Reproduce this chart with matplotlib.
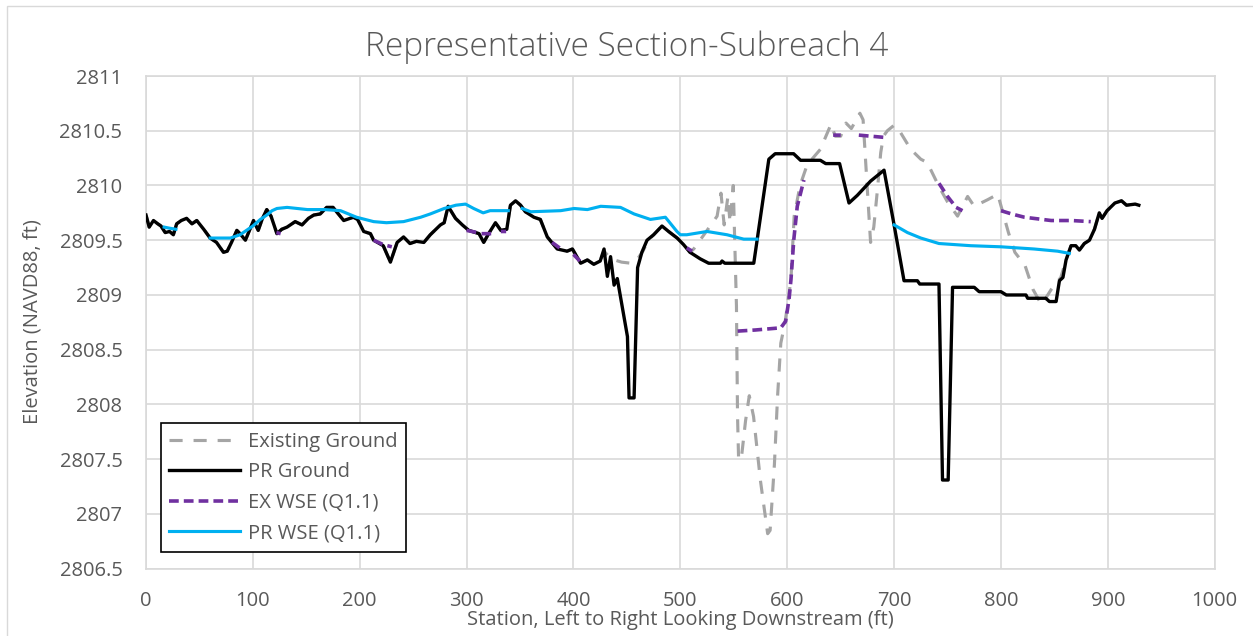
import numpy as np
import matplotlib
matplotlib.use("Agg")
from matplotlib import pyplot as plt
from matplotlib.patches import Rectangle

# PR Ground (proposed) station / elevation
pr_x = [0, 3, 7, 11, 14, 18, 22, 25.6, 28.7, 33, 38, 43, 47.5, 54, 60, 66, 72.5, 76, 80, 85,
        88, 93, 100.6, 105, 109, 113, 117, 122.5, 127, 132, 139.6, 146, 152, 157, 163, 169, 175,
        180, 185, 194, 198, 203.7, 210, 213, 222, 228.7, 235, 241, 247, 253, 260, 266, 275.5,
        279, 282.7, 289.6, 296, 302, 311.6, 316, 320.6, 327, 332, 337.6, 341, 345.8, 350.5, 355,
        363, 369, 375.5, 384.8, 394, 399, 406.7, 413, 419, 425, 428.6, 431.7, 434.7, 438, 441,
        450.5, 452, 456.7, 460, 464, 468.8, 475, 482.8, 489, 497, 503, 509, 518.6, 526.5, 537.5,
        539, 541.6, 568.7, 582.8, 588.7, 606, 612.5, 631, 636, 649, 657.8, 665.6, 678, 690.6,
        700, 709.3, 721.8, 724, 742, 745.3, 750.6, 754.7, 775, 779.6, 800, 805, 823.4, 825, 842,
        845.3, 851.6, 854.7, 858, 860.9, 865.6, 870, 873.4, 878, 882.8, 887.5, 892, 894.6, 899.3,
        906.6, 912.8, 917.5, 925.6, 929]
pr_y = [2809.73, 2809.62, 2809.68, 2809.65, 2809.63, 2809.57, 2809.58, 2809.55, 2809.65, 2809.68,
        2809.70, 2809.65, 2809.68, 2809.60, 2809.52, 2809.48, 2809.39, 2809.40, 2809.48, 2809.59,
        2809.56, 2809.50, 2809.68, 2809.59, 2809.70, 2809.78, 2809.72, 2809.56, 2809.60, 2809.62,
        2809.67, 2809.64, 2809.70, 2809.73, 2809.74, 2809.80, 2809.80, 2809.74, 2809.68, 2809.71,
        2809.69, 2809.58, 2809.56, 2809.50, 2809.45, 2809.30, 2809.48, 2809.53, 2809.47, 2809.49,
        2809.48, 2809.55, 2809.64, 2809.66, 2809.81, 2809.70, 2809.64, 2809.59, 2809.56, 2809.48,
        2809.56, 2809.66, 2809.59, 2809.60, 2809.82, 2809.86, 2809.82, 2809.76, 2809.71, 2809.69,
        2809.53, 2809.42, 2809.40, 2809.42, 2809.29, 2809.32, 2809.28, 2809.31, 2809.42, 2809.17,
        2809.35, 2809.09, 2809.15, 2808.62, 2808.06, 2808.06, 2809.25, 2809.39, 2809.50, 2809.55,
        2809.63, 2809.58, 2809.52, 2809.46, 2809.39, 2809.33, 2809.29, 2809.29, 2809.31, 2809.29,
        2809.29, 2810.24, 2810.29, 2810.29, 2810.23, 2810.23, 2810.20, 2810.20, 2809.84, 2809.91,
        2810.04, 2810.14, 2809.64, 2809.13, 2809.13, 2809.10, 2809.10, 2807.31, 2807.31, 2809.07,
        2809.07, 2809.03, 2809.03, 2809.00, 2809.00, 2808.97, 2808.97, 2808.94, 2808.94, 2809.13,
        2809.16, 2809.32, 2809.45, 2809.45, 2809.41, 2809.47, 2809.50, 2809.60, 2809.75, 2809.70,
        2809.77, 2809.84, 2809.86, 2809.82, 2809.83, 2809.82]

# Existing Ground where it differs from PR Ground (425 - 861 ft)
ex_mid_x = [428.6, 435, 445, 453.6, 460, 465, 470, 475, 482.8, 489, 497, 503, 509, 512.5, 525,
            534.4, 538, 541, 544.5, 546.5, 549.5, 552.5, 553.5, 554.5, 557, 561, 564.5, 568.5,
            575, 581.7, 584, 588, 591, 594, 598, 603.5, 606.5, 612, 618.7, 631, 641, 645, 650,
            655, 660, 668, 671, 675, 678, 681, 684.4, 687.5, 690, 693.7, 700, 705, 715.6, 725,
            731, 742, 750, 759.4, 768.8, 775, 787.5, 797, 807, 813, 822.5, 830, 838, 847, 856]
ex_mid_y = [2809.40, 2809.33, 2809.30, 2809.29, 2809.33, 2809.40, 2809.50, 2809.55, 2809.63,
            2809.58, 2809.52, 2809.46, 2809.39, 2809.42, 2809.59, 2809.72, 2809.93, 2809.64,
            2809.90, 2809.66, 2810.00, 2808.90, 2807.90, 2807.50, 2807.50, 2807.85, 2808.08,
            2807.89, 2807.30, 2806.82, 2806.85, 2807.45, 2808.08, 2808.56, 2808.75, 2809.14,
            2809.72, 2810.00, 2810.19, 2810.33, 2810.56, 2810.45, 2810.45, 2810.57, 2810.52,
            2810.66, 2810.60, 2809.96, 2809.48, 2809.62, 2809.96, 2810.30, 2810.45, 2810.50,
            2810.55, 2810.50, 2810.33, 2810.24, 2810.21, 2809.99, 2809.85, 2809.72, 2809.90,
            2809.81, 2809.87, 2809.92, 2809.57, 2809.39, 2809.27, 2809.05, 2808.91, 2809.05,
            2809.16]

# EX WSE (Q1.1), NaN = dry
ex_wse_x = [122, 126, np.nan, 213, 222, 230, np.nan, 300, 310, np.nan, 314, 323, np.nan,
            332, 337, np.nan, 380, 387, np.nan, 400, 406, np.nan, 506, 511, np.nan,
            553.6, 570, 594, 598.5, 601.7, 603.5, 606.2, 609.4, 615.6, np.nan,
            643, 650, np.nan, 667, 690, np.nan, 742, 750, 758, 764, np.nan,
            800, 810, 822, 847, 866, 884]
ex_wse_y = [2809.57, 2809.56, np.nan, 2809.50, 2809.46, 2809.44, np.nan, 2809.59, 2809.57, np.nan,
            2809.56, 2809.56, np.nan, 2809.58, 2809.58, np.nan, 2809.48, 2809.43, np.nan,
            2809.37, 2809.31, np.nan, 2809.43, 2809.40, np.nan,
            2808.67, 2808.68, 2808.70, 2808.76, 2808.96, 2809.14, 2809.51, 2809.81, 2810.05, np.nan,
            2810.46, 2810.46, np.nan, 2810.46, 2810.44, np.nan, 2810.02, 2809.90, 2809.80, 2809.77,
            np.nan, 2809.77, 2809.74, 2809.71, 2809.68, 2809.68, 2809.67]

# PR WSE (Q1.1), NaN = dry
pr_wse_x = [17, 22, 28, np.nan, 60, 70, 79, 88, 100, 107, 113, 118, 122.5, 132, 151, 167, 182,
            197, 213, 225, 241, 257, 266, 279, 290, 299, 306.6, 315.5, 322, 339, np.nan,
            352, 360, 388, 400.6, 413, 425.5, 444, 456.7, 472, 486, 496.8, 500, 506, 525, 543.7,
            559.3, 571.8, np.nan, 700, 712.5, 725, 742, 771.8, 800, 831, 853, 864]
pr_wse_y = [2809.62, 2809.61, 2809.60, np.nan, 2809.52, 2809.52, 2809.52, 2809.55, 2809.63,
            2809.69, 2809.73, 2809.77, 2809.79, 2809.80, 2809.78, 2809.78, 2809.77, 2809.71,
            2809.67, 2809.66, 2809.67, 2809.71, 2809.74, 2809.79, 2809.82, 2809.83, 2809.79,
            2809.75, 2809.77, 2809.77, np.nan, 2809.79, 2809.76, 2809.77, 2809.79, 2809.78,
            2809.81, 2809.80, 2809.74, 2809.69, 2809.71, 2809.58, 2809.55, 2809.55, 2809.58,
            2809.55, 2809.51, 2809.51, np.nan, 2809.64, 2809.57, 2809.52, 2809.47, 2809.45,
            2809.44, 2809.42, 2809.40, 2809.38]

# existing ground = PR ground outside the reworked reach
prx = np.asarray(pr_x)
pry = np.asarray(pr_y)
left = prx <= 425
right = prx >= 860.9
ex_x = np.concatenate([prx[left], ex_mid_x, prx[right]])
ex_y = np.concatenate([pry[left], ex_mid_y, pry[right]])

plt.rcParams['font.family'] = ['Open Sans', 'DejaVu Sans']
txt = '#595959'
grid = '#D9D9D9'

fig = plt.figure(figsize=(12.53, 6.36), dpi=100)
ax = fig.add_axes([146 / 1253, 1 - 568.7 / 636, (1214.7 - 146) / 1253, (568.7 - 76) / 636])

fig.patches.append(Rectangle((7 / 1253, -0.1), 1.2, 1 - 6 / 636 + 0.1, transform=fig.transFigure,
                             fill=False, edgecolor=grid, linewidth=1))

ax.plot(ex_x, ex_y, color='#A5A5A5', linewidth=2.25, linestyle=(0, (4.2, 3.5)),
        label='Existing Ground', zorder=3)
ax.plot(prx, pry, color='black', linewidth=2.4, label='PR Ground', zorder=4)
ax.plot(ex_wse_x, ex_wse_y, color='#7030A0', linewidth=2.6, linestyle=(0, (2.7, 1.4)),
        label='EX WSE (Q1.1)', zorder=5)
ax.plot(pr_wse_x, pr_wse_y, color='#00B0F0', linewidth=2.25, label='PR WSE (Q1.1)', zorder=6)

ax.set_xlim(0, 1000)
ax.set_ylim(2806.5, 2811)
ax.set_xticks(np.arange(0, 1001, 100))
ax.set_yticks(np.arange(2806.5, 2811.01, 0.5))
ax.set_yticklabels(['2806.5', '2807', '2807.5', '2808', '2808.5', '2809', '2809.5',
                    '2810', '2810.5', '2811'])
ax.grid(True, color=grid, linewidth=1.2)
ax.set_axisbelow(True)
for s in ax.spines.values():
    s.set_color(grid)
    s.set_linewidth(1.2)
ax.tick_params(length=0, labelsize=14.5, labelcolor=txt)
ax.tick_params(axis='y', pad=17)
ax.tick_params(axis='x', pad=16)

fig.text(0.5, 1 - 47 / 636, 'Representative Section-Subreach 4', ha='center', va='center',
         fontsize=24, color=txt, fontweight='light')
fig.text(33 / 1253, 1 - 322 / 636, 'Elevation (NAVD88, ft)', rotation=90, ha='center',
         va='center', fontsize=14.5, color=txt)
fig.text(680 / 1253, 1 - 620 / 636, 'Station, Left to Right Looking Downstream (ft)',
         ha='center', va='center', fontsize=14.5, color=txt)

leg = ax.legend(loc='lower left', bbox_to_anchor=(0.0137, 0.0345), borderaxespad=0,
                fancybox=False, fontsize=14.5, handlelength=3.5, handletextpad=0.4,
                labelspacing=0.52, borderpad=0.42, framealpha=1)
leg.get_frame().set_edgecolor('black')
leg.get_frame().set_linewidth(1.2)
for t in leg.get_texts():
    t.set_color(txt)

fig.savefig('out.png', dpi=100)
